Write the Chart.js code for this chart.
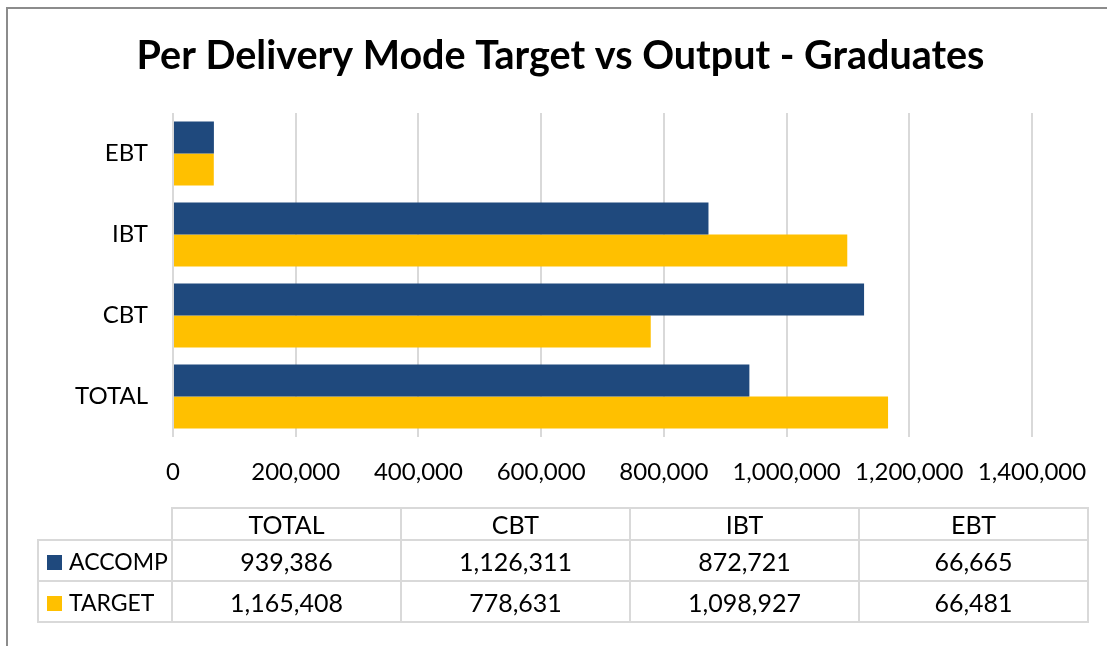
<!DOCTYPE html>
<html>
<head>
<meta charset="utf-8">
<script src="https://cdn.jsdelivr.net/npm/chart.js@4.4.1/dist/chart.umd.min.js"></script>
<style>
  html, body { margin: 0; padding: 0; background: #fff; }
  #wrap { position: relative; width: 1107px; height: 646px; overflow: hidden; }
  #frame { position: absolute; left: 6px; top: 7px; right: -10px; bottom: -10px;
           border-top: 2px solid #8c8c8c; border-left: 2px solid #8c8c8c; }
  #chart { position: absolute; left: 0; top: 0; }
  #dataTable { position: absolute; left: 37px; top: 507px; border-collapse: collapse; table-layout: fixed;
               font-family: Lato, sans-serif; font-size: 25px; color: #000; }
  #dataTable td { border: 2px solid #d9d9d9; text-align: center; padding: 0; }
  #dataTable td.key { text-align: left; white-space: nowrap; font-size: 23px; }
  #dataTable td.blank { border-top: none; border-left: none; }
  .sw { display: inline-block; width: 15px; height: 15px; margin: 0 7px 0 8px; vertical-align: 0px; }
</style>
</head>
<body>
<div id="wrap">
  <div id="frame"></div>
  <canvas id="chart" width="1107" height="646"></canvas>
  <table id="dataTable"></table>
</div>
<script>
// categories as listed in the data table (left to right)
const categories = ['TOTAL', 'CBT', 'IBT', 'EBT'];
const accomp = [939386, 1126311, 872721, 66665];
const target = [1165408, 778631, 1098927, 66481];
const seriesNames = ['ACCOMP', 'TARGET'];
const seriesColors = ['#1f497d', '#ffc000'];
const xTicks = [0, 200000, 400000, 600000, 800000, 1000000, 1200000, 1400000];

const fmt = v => v.toLocaleString('en-US');

// chart draws top-to-bottom: EBT, IBT, CBT, TOTAL
const rev = arr => arr.slice().reverse();

const config = {
    type: 'bar',
    data: {
        labels: rev(categories),
        datasets: [
            { label: seriesNames[0], data: rev(accomp), backgroundColor: seriesColors[0] },
            { label: seriesNames[1], data: rev(target), backgroundColor: seriesColors[1] }
        ]
    },
    options: {
        indexAxis: 'y',
        responsive: false,
        animation: false,
        datasets: { bar: { categoryPercentage: 0.79, barPercentage: 1.0 } },
        layout: { padding: { left: 14, right: 0, top: 0, bottom: 139 } },
        plugins: {
            legend: { display: false },
            tooltip: { enabled: false },
            title: {
                display: true,
                text: 'Per Delivery Mode Target vs Output - Graduates',
                color: '#000',
                font: { family: 'Lato', size: 39.5, weight: 'bold', lineHeight: 1.2 },
                padding: { top: 33, bottom: 32.6 }
            }
        },
        scales: {
            x: {
                min: 0, max: 1400000,
                afterBuildTicks: s => { s.ticks = xTicks.map(v => ({ value: v })); },
                afterFit: s => { s.height = 70; s.paddingLeft = 0; s.paddingRight = 75; },
                grid: { color: '#d9d9d9', lineWidth: 2, drawTicks: false },
                border: { display: false },
                ticks: {
                    color: '#000', padding: 21, maxRotation: 0, autoSkip: false,
                    font: { family: 'Lato', size: 24 },
                    callback: v => fmt(v)
                }
            },
            y: {
                afterFit: s => { s.width = 159; s.paddingTop = 0; s.paddingBottom = 0; },
                grid: { display: false, drawTicks: false },
                border: { display: false },
                ticks: { color: '#000', padding: 25, font: { family: 'Lato', size: 24 } }
            }
        }
    }
};

new Chart(document.getElementById('chart').getContext('2d'), config);

// data table under the chart
const tbl = document.getElementById('dataTable');
const colW = 227;
let html = '<tr style="height:32px"><td class="blank" style="width:133px"></td>';
categories.forEach(c => { html += '<td style="width:' + colW + 'px">' + c + '</td>'; });
html += '</tr>';
[accomp, target].forEach((vals, i) => {
    html += '<tr style="height:41px"><td class="key"><span class="sw" style="background:' + seriesColors[i] + '"></span>' + seriesNames[i] + '</td>';
    vals.forEach(v => { html += '<td>' + fmt(v) + '</td>'; });
    html += '</tr>';
});
tbl.innerHTML = html;
</script>
</body>
</html>
